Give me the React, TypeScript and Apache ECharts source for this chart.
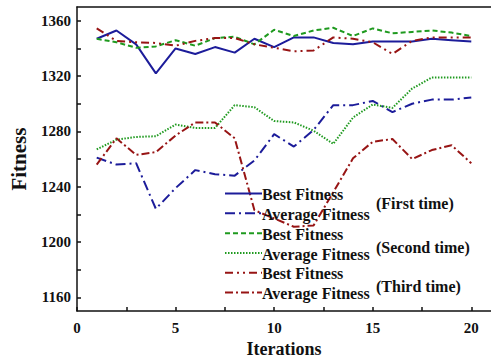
import React, { useEffect, useRef } from "react";
import * as echarts from "echarts";

const iterations = [1, 2, 3, 4, 5, 6, 7, 8, 9, 10, 11, 12, 13, 14, 15, 16, 17, 18, 19, 20];

const bestFirst = [1347, 1353, 1343, 1322, 1340, 1336, 1341, 1337, 1347, 1341, 1348, 1348, 1344, 1343, 1345, 1345, 1345, 1347, 1346, 1345];
const avgFirst = [1261, 1256, 1257, 1224, 1239, 1252, 1249, 1248, 1259, 1278, 1269, 1281, 1299, 1299, 1302, 1294, 1300, 1303, 1303, 1304.5];
const bestSecond = [1347, 1344.5, 1340.5, 1341.5, 1346, 1342, 1347.5, 1348.5, 1343, 1353.5, 1349, 1353, 1355, 1349, 1354.5, 1351, 1352, 1353, 1351.5, 1349];
const avgSecond = [1267, 1274, 1276, 1276.5, 1285, 1282.5, 1282.5, 1299, 1297.5, 1287.5, 1286.5, 1280.5, 1271, 1290, 1299.5, 1297, 1311, 1319, 1319, 1319];
const bestThird = [1354.5, 1345.5, 1344.5, 1344, 1342, 1345.5, 1347.5, 1347.5, 1343, 1340.5, 1338, 1338.5, 1348, 1347, 1344.5, 1336, 1345.5, 1348, 1348, 1348];
const avgThird = [1256, 1275, 1263, 1265, 1277, 1286.5, 1286.5, 1275, 1223, 1217, 1211, 1212, 1236, 1260.5, 1272.5, 1274.5, 1260, 1266.5, 1270, 1257];

const yLabels = [1160, 1200, 1240, 1280, 1320, 1360];
const yTicks = [1160, 1180, 1200, 1220, 1240, 1260, 1280, 1300, 1320, 1340, 1360];
const xLabels = [0, 5, 10, 15, 20];
const xTicks = [0, 2.5, 5, 7.5, 10, 12.5, 15, 17.5, 20];

const legendNames = ["Best Fitness", "Average Fitness", "Best Fitness", "Average Fitness", "Best Fitness", "Average Fitness"];
const runNames = ["(First time)", "(Second time)", "(Third time)"];

const BLUE = "#1c1c9a";
const GREEN = "#1f9a1f";
const RED = "#971414";
const FONT = "Liberation Serif";

const seriesDefs = [
  { name: "Best Fitness (First time)", data: bestFirst, color: BLUE, dash: "solid" as any },
  { name: "Average Fitness (First time)", data: avgFirst, color: BLUE, dash: [10, 4, 2, 4] },
  { name: "Best Fitness (Second time)", data: bestSecond, color: GREEN, dash: [5, 3] },
  { name: "Average Fitness (Second time)", data: avgSecond, color: GREEN, dash: [1.5, 1.5] },
  { name: "Best Fitness (Third time)", data: bestThird, color: RED, dash: [8, 4, 2, 4, 2, 4] },
  { name: "Average Fitness (Third time)", data: avgThird, color: RED, dash: [8, 3, 2, 3] },
];

export default function App() {
  const ref = useRef<HTMLDivElement>(null);
  useEffect(() => {
    if (!ref.current) return;
    const chart = echarts.init(ref.current, undefined, { renderer: "svg" });
    const rowY = [193.5, 213.3, 233.2, 253, 272.8, 292.6];
    const legendGraphics: any[] = [];
    seriesDefs.forEach((s, i) => {
      legendGraphics.push({
        type: "line",
        shape: { x1: 225, y1: rowY[i], x2: 262, y2: rowY[i] },
        style: {
          stroke: s.color,
          lineWidth: 2,
          lineDash: Array.isArray(s.dash) ? s.dash : null,
        },
        z: 100,
      });
      legendGraphics.push({
        type: "text",
        x: 262,
        y: rowY[i] + 1,
        style: {
          text: legendNames[i],
          fontFamily: FONT,
          fontWeight: "bold",
          fontSize: 16,
          fill: "#111",
          verticalAlign: "middle",
        },
        z: 101,
      });
    });
    const runY = [203.5, 247, 286.5];
    runNames.forEach((t, i) => {
      legendGraphics.push({
        type: "text",
        x: 376,
        y: runY[i],
        style: {
          text: t,
          fontFamily: FONT,
          fontWeight: "bold",
          fontSize: 16,
          fill: "#111",
          verticalAlign: "middle",
        },
        z: 101,
      });
    });

    chart.setOption({
      animation: false,
      backgroundColor: "#ffffff",
      grid: { left: 77, top: 7, right: -3, bottom: 45, containLabel: false },
      xAxis: [
        {
          type: "value",
          min: 0,
          max: 21,
          name: "Iterations",
          nameLocation: "middle",
          nameGap: 27,
          nameTextStyle: { fontFamily: FONT, fontWeight: "bold", fontSize: 18, color: "#111" },
          axisLine: { show: true, onZero: false, lineStyle: { color: "#111", width: 1.5 } },
          axisTick: { show: true, inside: true, length: 4, customValues: xTicks, lineStyle: { color: "#111", width: 1.5 } },
          axisLabel: { customValues: xLabels, formatter: (v: number) => String(v), fontFamily: FONT, fontWeight: "bold", fontSize: 15, color: "#111", margin: 9 },
          splitLine: { show: false },
        },
        {
          type: "value",
          position: "top",
          min: 0,
          max: 21,
          axisLine: { show: true, onZero: false, lineStyle: { color: "#111", width: 1.5 } },
          axisTick: { show: false },
          axisLabel: { show: false },
          splitLine: { show: false },
        },
      ],
      yAxis: {
        type: "value",
        min: 1150,
        max: 1370,
        name: "Fitness",
        nameLocation: "middle",
        nameGap: 48,
        nameTextStyle: { fontFamily: FONT, fontWeight: "bold", fontSize: 21, color: "#111" },
        axisLine: { show: true, onZero: false, lineStyle: { color: "#111", width: 1.5 } },
        axisTick: { show: true, inside: true, length: 4, customValues: yTicks, lineStyle: { color: "#111", width: 1.5 } },
        axisLabel: { customValues: yLabels, formatter: (v: number) => String(v), fontFamily: FONT, fontWeight: "bold", fontSize: 15, color: "#111", margin: 6 },
        splitLine: { show: false },
      },
      series: seriesDefs.map((s) => ({
        name: s.name,
        type: "line",
        xAxisIndex: 0,
        symbol: "none",
        data: iterations.map((x, i) => [x, s.data[i]]),
        lineStyle: { color: s.color, width: 2, type: s.dash },
        itemStyle: { color: s.color },
        z: 2,
      })),
      graphic: legendGraphics,
    });
    return () => chart.dispose();
  }, []);
  return (
    <div
      ref={ref}
      style={{ position: "fixed", left: 0, top: 0, width: 491, height: 363 }}
    />
  );
}
